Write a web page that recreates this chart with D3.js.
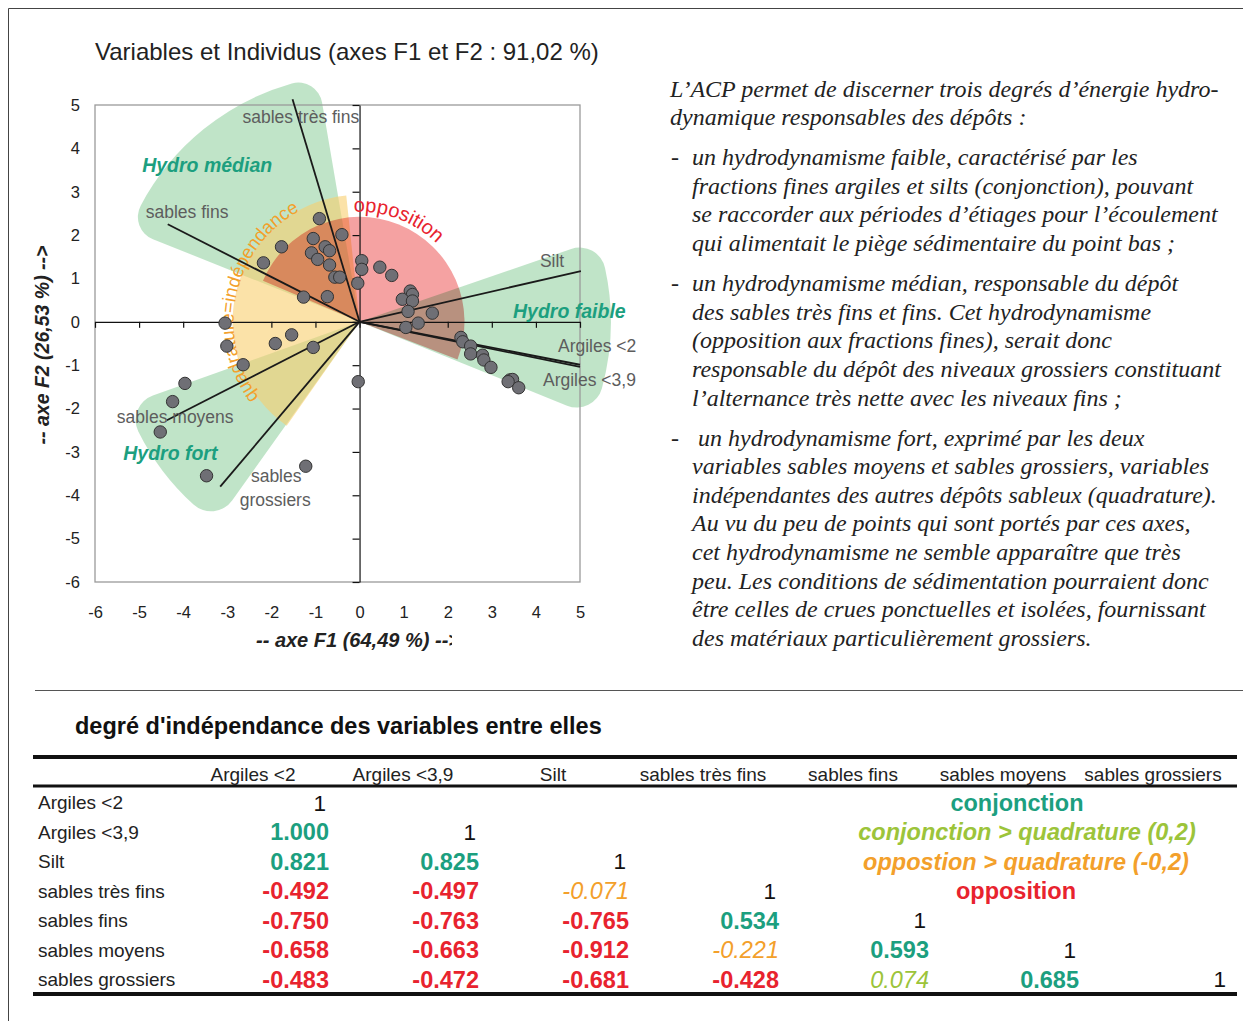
<!DOCTYPE html>
<html><head><meta charset="utf-8">
<script src="https://cdn.jsdelivr.net/npm/d3@7"></script>
<style>body{margin:0;background:#fff} svg{display:block}</style>
</head><body>
<svg id="c" width="1243" height="1021"></svg>
<script>
// ---------------- DATA ----------------
const chartTitle = "Variables et Individus (axes F1 et F2 : 91,02 %)";
const xTitle = "-- axe F1 (64,49 %) -->";
const yTitle = "-- axe F2 (26,53 %) -->";
const xTicks = [-6,-5,-4,-3,-2,-1,0,1,2,3,4,5];
const yTicks = [-6,-5,-4,-3,-2,-1,0,1,2,3,4,5];

const indF1 = [-0.91,-0.40,-1.05,-1.77,-0.78,-0.68,-1.09,-0.95,-0.68,-2.18,-0.56,-0.45,-0.04,-1.27,-0.73,0.05,0.05,-3.05,0.46,0.73,1.15,1.20,0.97,1.20,1.10,1.65,1.33,1.05,2.30,2.34,2.52,2.52,2.79,2.82,2.98,3.41,3.47,3.37,3.61,-0.03,-1.54,-1.91,-1.05,-3.01,-2.64,-3.96,-4.24,-4.52,-3.47,-1.22];
const indF2 = [2.38,2.01,1.92,1.73,1.73,1.64,1.59,1.44,1.31,1.36,1.03,1.03,0.89,0.57,0.58,1.41,1.21,-0.03,1.26,1.07,0.71,0.63,0.52,0.48,0.24,0.20,-0.03,-0.13,-0.36,-0.46,-0.56,-0.74,-0.77,-0.88,-1.05,-1.34,-1.33,-1.38,-1.52,-1.38,-0.30,-0.50,-0.59,-0.56,-0.99,-1.42,-1.84,-2.54,-3.55,-3.33];

const varNames = ["Argiles <2","Argiles <3,9","Silt","sables très fins","sables fins","sables moyens","sables grossiers"];
const varF1 = [5.00, 5.00, 5.02, -1.52, -4.35, -4.37, -3.16];
const varF2 = [-0.99, -1.04, 1.17, 5.13, 2.25, -2.27, -3.80];

// shaded zones: angular range (degrees, counter-clockwise from +F1) and radius (F1 units)
const zoneNames  = ["Hydro médian","Hydro faible","Hydro fort","quadrature=indépendance","opposition"];
const zoneFrom   = [99.7, -22, 199.6, 96, -21];
const zoneTo     = [158.2, 19, 234.5, 235, 157];
const zoneRadius = [5.62, 5.70, 5.60, 2.88, 2.38];

const corrMatrix = [
  [1],
  [1.000, 1],
  [0.821, 0.825, 1],
  [-0.492, -0.497, -0.071, 1],
  [-0.750, -0.763, -0.765, 0.534, 1],
  [-0.658, -0.663, -0.912, -0.221, 0.593, 1],
  [-0.483, -0.472, -0.681, -0.428, 0.074, 0.685, 1]
];
const tableTitle = "degré d'indépendance des variables entre elles";
const legendLabels = ["conjonction","conjonction > quadrature (0,2)","oppostion > quadrature (-0,2)","opposition"];

const paragraphs = [
  ["L’ACP permet de discerner trois degrés d’énergie hydro-",
   "dynamique responsables des dépôts :"],
  ["un hydrodynamisme faible, caractérisé par les",
   "fractions fines argiles et silts (conjonction), pouvant",
   "se raccorder aux périodes d’étiages pour l’écoulement",
   "qui alimentait le piège sédimentaire du point bas ;"],
  ["un hydrodynamisme médian, responsable du dépôt",
   "des sables très fins et fins. Cet hydrodynamisme",
   "(opposition aux fractions fines), serait donc",
   "responsable du dépôt des niveaux grossiers constituant",
   "l’alternance très nette avec les niveaux fins ;"],
  ["\u00a0un hydrodynamisme fort, exprimé par les deux",
   "variables sables moyens et sables grossiers, variables",
   "indépendantes des autres dépôts sableux (quadrature).",
   "Au vu du peu de points qui sont portés par ces axes,",
   "cet hydrodynamisme ne semble apparaître que très",
   "peu. Les conditions de sédimentation pourraient donc",
   "être celles de crues ponctuelles et isolées, fournissant",
   "des matériaux particulièrement grossiers."]
];

// ---------------- DRAW ----------------
const TEAL = "#1c9f7f", RED = "#e8232e", ORANGE = "#f3a02b", YGREEN = "#9cc43a";
const SANS = "'Liberation Sans', Arial, sans-serif";
const svg = d3.select("#c");

// outer frame
svg.append("path").attr("d","M8.5,1021V8.5H1243").attr("fill","none").attr("stroke","#444").attr("stroke-width",1);
svg.append("line").attr("x1",35).attr("x2",1243).attr("y1",690.5).attr("y2",690.5).attr("stroke","#555").attr("stroke-width",1);

const xs = d3.scaleLinear().domain([-6,5]).range([95,580]);
const ys = d3.scaleLinear().domain([-6,5]).range([582,105]);
const cx = xs(0), cy = ys(0);
const pxPerUnit = xs(1) - xs(0);

svg.append("text").attr("x",95).attr("y",60).attr("font-family",SANS).attr("font-size",24)
  .attr("fill","#222").text(chartTitle);

// zones
const zoneStyle = [
  {fill:"rgb(140,205,155)", op:0.55, blend:"normal", corner:24},
  {fill:"rgb(140,205,155)", op:0.55, blend:"normal", corner:26},
  {fill:"rgb(140,205,155)", op:0.55, blend:"normal", corner:26},
  {fill:"rgb(248,206,110)", op:0.6, blend:"normal", corner:0},
  {fill:"rgb(245,162,162)", op:1, blend:"multiply", corner:0}
];
const zg = svg.append("g").attr("transform",`translate(${cx},${cy})`).style("isolation","isolate");
zoneNames.forEach((n,i)=>{
  const arcGen = d3.arc().innerRadius(0).cornerRadius(zoneStyle[i].corner);
  zg.append("path")
    .attr("d", arcGen({outerRadius: zoneRadius[i]*pxPerUnit,
                       startAngle: (90 - zoneTo[i]) * Math.PI/180,
                       endAngle: (90 - zoneFrom[i]) * Math.PI/180}))
    .attr("fill", zoneStyle[i].fill).attr("fill-opacity", zoneStyle[i].op)
    .style("mix-blend-mode", zoneStyle[i].blend);
});

// plot frame
svg.append("rect").attr("x",xs(-6)).attr("y",ys(5)).attr("width",xs(5)-xs(-6)).attr("height",ys(-6)-ys(5))
  .attr("fill","none").attr("stroke","#9a9a9a").attr("stroke-width",1.3);

// axes through origin
const gx = svg.append("g").attr("transform",`translate(0,${cy})`)
  .call(d3.axisBottom(xs).tickValues(xTicks).tickFormat("").tickSize(6).tickSizeOuter(0));
const gy = svg.append("g").attr("transform",`translate(${cx},0)`)
  .call(d3.axisLeft(ys).tickValues(yTicks).tickFormat("").tickSize(7).tickSizeOuter(0));
[gx,gy].forEach(g=>{ g.selectAll("path,line").attr("stroke","#111").attr("stroke-width",1.2); });

// tick labels
const lx = svg.append("g").attr("transform",`translate(0,603)`)
  .call(d3.axisBottom(xs).tickValues(xTicks).tickFormat(d=>String(d)).tickSize(0).tickPadding(3));
const ly = svg.append("g").attr("transform",`translate(80,0)`)
  .call(d3.axisLeft(ys).tickValues(yTicks).tickFormat(d=>String(d)).tickSize(0).tickPadding(0));
[lx,ly].forEach(g=>{ g.select(".domain").remove(); g.selectAll("text").attr("font-family",SANS).attr("font-size",16.5).attr("fill","#222"); });

// axis titles
svg.append("clipPath").attr("id","xclip").append("rect").attr("x",200).attr("y",620).attr("width",252).attr("height",40);
svg.append("text").attr("clip-path","url(#xclip)").attr("x",256).attr("y",647).attr("font-family",SANS)
  .attr("font-size",20).attr("font-weight","bold").attr("font-style","italic").attr("fill","#222").text(xTitle);
svg.append("text").attr("transform","translate(49,345) rotate(-90)").attr("text-anchor","middle")
  .attr("font-family",SANS).attr("font-size",19.5).attr("font-weight","bold").attr("font-style","italic").attr("fill","#222").text(yTitle);

// curved zone captions
function arcPath(r, mathFrom, mathTo){
  const p = d3.path();
  const a0 = -mathFrom*Math.PI/180, a1 = -mathTo*Math.PI/180;
  p.moveTo(cx + r*Math.cos(a0), cy + r*Math.sin(a0));
  p.arc(cx, cy, r, a0, a1, false);
  return p.toString();
}
const defs = svg.append("defs");
defs.append("path").attr("id","arcOpp").attr("d", arcPath(110, 93, 5));
defs.append("path").attr("id","arcQuad").attr("d", arcPath(126, 217, 90));
svg.append("text").attr("font-family",SANS).attr("font-size",20).attr("fill",RED)
  .append("textPath").attr("href","#arcOpp").text(zoneNames[4]);
svg.append("text").attr("font-family",SANS).attr("font-size",18.5).attr("fill",ORANGE)
  .append("textPath").attr("href","#arcQuad").text(zoneNames[3]);

// variable vectors
const vecG = svg.append("g");
varNames.forEach((n,i)=>{
  vecG.append("line").attr("x1",cx).attr("y1",cy).attr("x2",xs(varF1[i])).attr("y2",ys(varF2[i]))
    .attr("stroke","#1a1a1a").attr("stroke-width",1.8);
});

// individuals
svg.append("g").selectAll("circle").data(indF1.map((v,i)=>[v,indF2[i]])).join("circle")
  .attr("cx",d=>xs(d[0])).attr("cy",d=>ys(d[1])).attr("r",6.2)
  .attr("fill","#6f6f75").attr("stroke","#333").attr("stroke-width",1);

// variable labels (offsets in px from vector end)
const labOff = [[-22,-19],[-37,13],[-41,-10],[-50,18],[-22,-12],[-50,-3]];
const labG = svg.append("g").attr("font-family",SANS).attr("font-size",17.5).attr("fill","#5d5d5d");
labOff.forEach((o,i)=>{
  labG.append("text").attr("x",xs(varF1[i])+o[0]).attr("y",ys(varF2[i])+o[1]).attr("dy","0.35em").text(varNames[i]);
});
{
  const parts = varNames[6].split(" ");
  const ex = xs(varF1[6]), ey = ys(varF2[6]);
  labG.append("text").attr("x",ex+56).attr("y",ey-11).attr("dy","0.35em").attr("text-anchor","middle").text(parts[0]);
  labG.append("text").attr("x",ex+55).attr("y",ey+13).attr("dy","0.35em").attr("text-anchor","middle").text(parts[1]);
}

// zone names
const zoneLab = [[0,-4.93,3.62],[1,3.48,0.25],[2,-5.36,-3.03]];
zoneLab.forEach(z=>{
  svg.append("text").attr("x",xs(z[1])).attr("y",ys(z[2])).attr("dy","0.35em")
    .attr("font-family",SANS).attr("font-size",19.5).attr("font-weight","bold").attr("font-style","italic")
    .attr("fill",TEAL).text(zoneNames[z[0]]);
});

// ---------------- paragraph ----------------
const SERIF = "'Liberation Serif','Times New Roman',serif";
const pg = svg.append("g").attr("font-family",SERIF).attr("font-style","italic").attr("font-size",24).attr("fill","#222");
let yb = 96.5;
paragraphs.forEach((lines,pi)=>{
  lines.forEach((t,li)=>{
    const x = pi===0 ? 670 : 692;
    if (pi>0 && li===0) pg.append("text").attr("x",671).attr("y",yb).text("-");
    pg.append("text").attr("x",x).attr("y",yb).text(t);
    yb += 28.6;
  });
  yb += 11.5;
});

// ---------------- table ----------------
svg.append("text").attr("x",75).attr("y",733.5).attr("font-family",SANS).attr("font-size",23.5)
  .attr("font-weight","bold").attr("fill","#111").text(tableTitle);

const colX = d3.scaleBand().domain(d3.range(7)).range([179,1229]);
const rowY = d3.scaleBand().domain(d3.range(7)).range([788,994]);

svg.append("line").attr("x1",33).attr("x2",1237).attr("y1",757).attr("y2",757).attr("stroke","#111").attr("stroke-width",4);
svg.append("line").attr("x1",33).attr("x2",1237).attr("y1",786).attr("y2",786).attr("stroke","#111").attr("stroke-width",3);
svg.append("line").attr("x1",33).attr("x2",1237).attr("y1",994).attr("y2",994).attr("stroke","#111").attr("stroke-width",4);

const tg = svg.append("g").attr("font-family",SANS);
varNames.forEach((n,i)=>{
  tg.append("text").attr("x",colX(i)+colX.bandwidth()/2-1).attr("y",774).attr("dy","0.35em")
    .attr("text-anchor","middle").attr("font-size",19).attr("fill","#222").text(n);
  tg.append("text").attr("x",38).attr("y",rowY(i)+rowY.bandwidth()/2).attr("dy","0.35em")
    .attr("font-size",19).attr("fill","#222").text(n);
});
function cellStyle(v){
  if (v >= 0.3) return {c:TEAL, w:"bold", s:"normal"};
  if (v >= 0) return {c:YGREEN, w:"normal", s:"italic"};
  if (v > -0.3) return {c:ORANGE, w:"normal", s:"italic"};
  return {c:RED, w:"bold", s:"normal"};
}
corrMatrix.forEach((row,ri)=>{
  row.forEach((v,ci)=>{
    const t = tg.append("text").attr("x",colX(ci)+colX.bandwidth()).attr("y",rowY(ri)+rowY.bandwidth()/2)
      .attr("dy","0.35em").attr("text-anchor","end").attr("font-size",23.5);
    if (ci===ri) { t.attr("fill","#111").attr("x",colX(ci)+colX.bandwidth()-3).attr("font-size",22.5).text("1"); }
    else { const s = cellStyle(v); t.attr("fill",s.c).attr("font-weight",s.w).attr("font-style",s.s).text(v.toFixed(3)); }
  });
});
const legStyle = [{c:TEAL,s:"normal"},{c:YGREEN,s:"italic"},{c:ORANGE,s:"italic"},{c:RED,s:"normal"}];
const legCenter = [1017,1027,1026,1016];
legendLabels.forEach((t,i)=>{
  tg.append("text").attr("x",legCenter[i]).attr("y",rowY(i)+rowY.bandwidth()/2).attr("dy","0.35em")
    .attr("text-anchor","middle").attr("font-size",23.5).attr("font-weight","bold").attr("font-style",legStyle[i].s)
    .attr("fill",legStyle[i].c).text(t);
});
</script>
</body></html>
